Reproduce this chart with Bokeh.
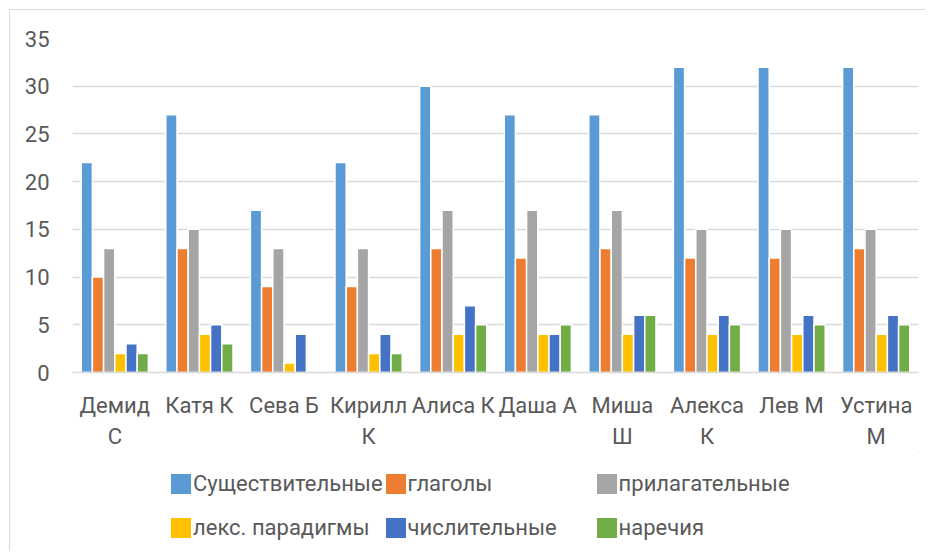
from bokeh.plotting import figure
from bokeh.models import FactorRange, Range1d, FixedTicker, Legend, LegendItem
from bokeh.layouts import column
from bokeh.transform import dodge
from bokeh.embed import file_html
from bokeh.resources import INLINE

cats = ["Демид С", "Катя К", "Сева Б", "Кирилл К", "Алиса К",
        "Даша А", "Миша Ш", "Алекса К", "Лев М", "Устина М"]
tick_labels = ["Демид\nС", "Катя К", "Сева Б", "Кирилл\nК", "Алиса К",
               "Даша А", "Миша\nШ", "Алекса\nК", "Лев М", "Устина\nМ"]

series_names = ["Существительные", "глаголы", "прилагательные",
                "лекс. парадигмы", "числительные", "наречия"]
nouns      = [22, 27, 17, 22, 30, 27, 27, 32, 32, 32]
verbs      = [10, 13, 9, 9, 13, 12, 13, 12, 12, 13]
adjectives = [13, 15, 13, 13, 17, 17, 17, 15, 15, 15]
paradigms  = [2, 4, 1, 2, 4, 4, 4, 4, 4, 4]
numerals   = [3, 5, 4, 4, 7, 4, 6, 6, 6, 6]
adverbs    = [2, 3, 0, 2, 5, 5, 6, 5, 5, 5]
y_ticks = [0, 5, 10, 15, 20, 25, 30, 35]

colors = ["#5B9BD5", "#ED7D31", "#A5A5A5", "#FFC000", "#4472C4", "#70AD47"]
series = [nouns, verbs, adjectives, paradigms, numerals, adverbs]

# factors are the displayed (wrapped) names of the categories
factors = tick_labels
data = {"cats": factors}
keys = ["s0", "s1", "s2", "s3", "s4", "s5"]
for k, s in zip(keys, series):
    data[k] = s

FONT = "Roboto"
TXT = "#595959"
BORDER = "1px solid #d9d9d9"

p = figure(x_range=FactorRange(*factors), y_range=Range1d(0, 35),
           width=916, height=442, output_backend="svg", toolbar_location=None,
           min_border_left=62, min_border_right=8, min_border_top=28,
           min_border_bottom=80)
p.styles = {"border-left": BORDER, "border-top": BORDER,
            "margin-left": "9px", "margin-top": "9px"}
p.outline_line_color = None
p.background_fill_color = "white"
p.border_fill_color = "white"

bw = 0.1324
for i, (k, c) in enumerate(zip(keys, colors)):
    p.vbar(x=dodge("cats", (i - 2.5) * bw, range=p.x_range), top=k, width=bw,
           source=data, fill_color=c, line_color="white", line_width=1.5)

p.xgrid.grid_line_color = None
p.ygrid.grid_line_color = "#d9d9d9"
p.ygrid.grid_line_width = 1.5

p.yaxis.ticker = FixedTicker(ticks=y_ticks)
p.yaxis.axis_line_color = None
p.yaxis.major_tick_line_color = None
p.yaxis.minor_tick_line_color = None
p.yaxis.major_label_standoff = 17
p.yaxis.major_label_text_font = FONT
p.yaxis.major_label_text_font_size = "22px"
p.yaxis.major_label_text_color = TXT

p.xaxis.axis_line_color = "#d9d9d9"
p.xaxis.axis_line_width = 1.5
p.xaxis.major_tick_line_color = None
p.xaxis.minor_tick_line_color = None
p.xaxis.major_label_standoff = 14
p.xaxis.major_label_text_font = FONT
p.xaxis.major_label_text_font_size = "22px"
p.xaxis.major_label_text_color = TXT
p.xaxis.major_label_text_line_height = 1.25

# legend panel below the chart
q = figure(x_range=Range1d(0, 1), y_range=Range1d(0, 1),
           width=916, height=100, output_backend="svg", toolbar_location=None,
           min_border_left=62, min_border_right=8, min_border_top=0,
           min_border_bottom=0)
q.styles = {"border-left": BORDER, "margin-left": "9px"}
q.axis.visible = False
q.grid.visible = False
q.outline_line_color = None
q.background_fill_color = "white"
q.border_fill_color = "white"

items = []
for c, name in zip(colors, series_names):
    # swatch renderers: one point placed outside the visible range
    r = q.vbar(x=[5], top=[5], bottom=[4], width=0.1, fill_color=c, line_color=None)
    items.append(LegendItem(label=name, renderers=[r]))

legend = Legend(items=items, orientation="horizontal", ncols=3,
                location=(96, 2), padding=0, margin=0, spacing=0,
                glyph_width=25, glyph_height=25, label_standoff=0,
                label_width=186, label_height=44,
                label_text_font=FONT, label_text_font_size="22px",
                label_text_color=TXT, border_line_color=None,
                background_fill_alpha=0)
q.add_layout(legend, "center")

layout = column(p, q)
open("out.html", "w").write(file_html(layout, INLINE))
